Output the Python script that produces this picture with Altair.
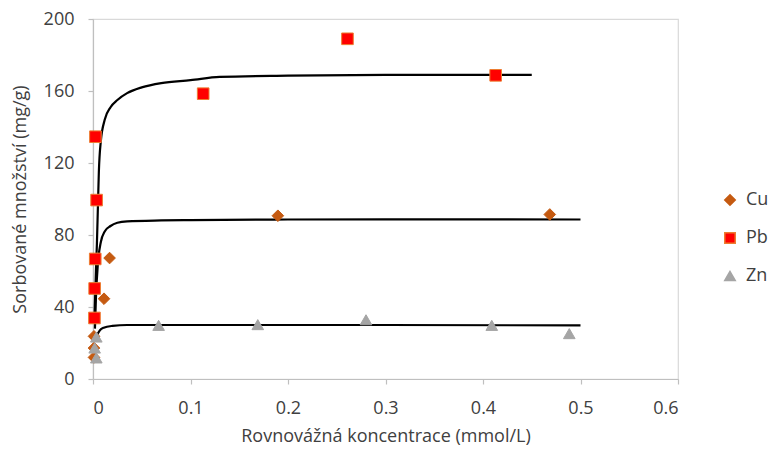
import altair as alt
import pandas as pd

# measured points
cu_x = [0.001, 0.001, 0.001, 0.0113, 0.017, 0.1896, 0.4685]
cu_y = [12.0, 17.2, 23.7, 44.6, 67.2, 90.7, 91.4]
pb_x = [0.0015, 0.0017, 0.0023, 0.0037, 0.0025, 0.113, 0.261, 0.413]
pb_y = [33.9, 50.3, 66.7, 99.4, 134.6, 158.5, 189.0, 168.7]
zn_x = [0.0034, 0.0017, 0.0034, 0.0673, 0.169, 0.280, 0.409, 0.4885]
zn_y = [11.7, 17.2, 23.3, 29.8, 30.2, 32.9, 29.8, 25.2]

# fitted curves
pb_cx = [0.0017, 0.003, 0.004, 0.005, 0.006, 0.008, 0.012, 0.018, 0.025, 0.035, 0.05, 0.07, 0.1, 0.13, 0.2, 0.3, 0.45]
pb_cy = [37.0, 60.0, 75.0, 95.0, 115.0, 132.0, 144.0, 151.0, 155.0, 158.8, 162.0, 164.4, 166.0, 167.8, 168.5, 169.0, 169.0]
cu_cx = [0.002, 0.003, 0.005, 0.008, 0.012, 0.018, 0.025, 0.035, 0.07, 0.1, 0.2, 0.3, 0.5]
cu_cy = [28.0, 45.0, 64.0, 76.0, 82.0, 85.0, 86.8, 87.6, 88.1, 88.3, 88.6, 88.7, 88.6]
zn_cx = [0.0025, 0.004, 0.007, 0.011, 0.02, 0.035, 0.1, 0.3, 0.5]
zn_cy = [21.0, 24.0, 27.0, 28.5, 29.5, 30.0, 30.0, 30.0, 29.8]

x_ticks = [0, 0.1, 0.2, 0.3, 0.4, 0.5, 0.6]
y_ticks = [0, 40, 80, 120, 160, 200]
metals = ["Cu", "Pb", "Zn"]

pts = pd.concat([
    pd.DataFrame({"c": cu_x, "q": cu_y, "metal": "Cu"}),
    pd.DataFrame({"c": pb_x, "q": pb_y, "metal": "Pb"}),
    pd.DataFrame({"c": zn_x, "q": zn_y, "metal": "Zn"}),
])
curves = pd.concat([
    pd.DataFrame({"c": pb_cx, "q": pb_cy, "fit": "Pb"}),
    pd.DataFrame({"c": cu_cx, "q": cu_cy, "fit": "Cu"}),
    pd.DataFrame({"c": zn_cx, "q": zn_cy, "fit": "Zn"}),
])

FONT = "Open Sans"
TXT = "#404040"
FS = 18

xs = alt.Scale(domain=[0, 0.6], nice=False)
ys = alt.Scale(domain=[0, 200], nice=False)

common = dict(grid=False, tickSize=5, domainColor="#bfbfbf", tickColor="#bfbfbf",
              domainWidth=1.2, tickWidth=1.2, labelFont=FONT, titleFont=FONT,
              labelFontSize=FS, titleFontSize=FS, labelColor=TXT, titleColor=TXT,
              titleFontWeight="normal")

x_axis = alt.Axis(values=x_ticks, labelExpr="datum.value == 0 ? '0' : format(datum.value, '.1f')",
                  title="Rovnovážná koncentrace (mmol/L)", labelPadding=15, titlePadding=10, **common)
y_axis = alt.Axis(values=y_ticks, title="Sorbované množství (mg/g)",
                  labelPadding=14, titlePadding=14, **common)

lines = alt.Chart(curves).mark_line(color="black", strokeWidth=2.2, interpolate="monotone").encode(
    x=alt.X("c:Q", scale=xs, axis=x_axis),
    y=alt.Y("q:Q", scale=ys, axis=y_axis),
    detail="fit:N",
    order="c:Q",
)

points = alt.Chart(pts).mark_point(filled=True, size=135, opacity=1, strokeWidth=1).encode(
    x=alt.X("c:Q", scale=xs),
    y=alt.Y("q:Q", scale=ys),
    color=alt.Color("metal:N", scale=alt.Scale(domain=metals, range=["#C55A11", "#FF0000", "#A5A5A5"]),
                    legend=alt.Legend(title=None, orient="none", legendX=628, legendY=172,
                                      labelFontSize=FS, labelFont=FONT, labelColor=TXT,
                                      symbolSize=110, rowPadding=20, labelOffset=7, padding=0)),
    shape=alt.Shape("metal:N", scale=alt.Scale(domain=metals, range=["diamond", "square", "triangle-up"])),
    stroke=alt.Stroke("metal:N", scale=alt.Scale(domain=metals, range=["#C55A11", "#ED7D31", "#A5A5A5"]), legend=None),
)

chart = (lines + points).properties(
    width=585, height=360,
    autosize=alt.AutoSizeParams(type="none"),
    padding={"left": 93, "top": 19, "right": 94, "bottom": 75},
    background="white",
).configure_view(stroke="#d9d9d9", strokeWidth=1.2)

chart.save("out.html", embed_options={"renderer": "svg", "actions": False})
